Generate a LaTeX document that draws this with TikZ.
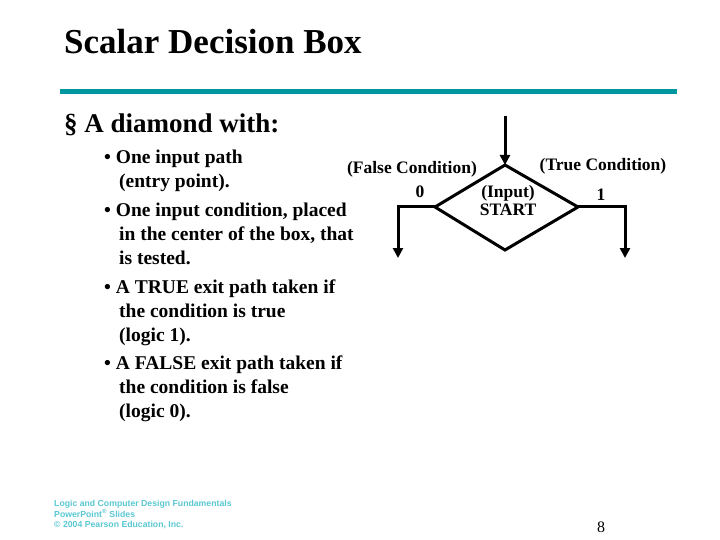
\documentclass[tikz,border=0pt]{standalone}
\usepackage{fontspec}
\setmainfont{Liberation Serif}
\newfontfamily\logofont{Liberation Sans}
\usetikzlibrary{arrows.meta}
\definecolor{teal1}{RGB}{0,150,160}
\definecolor{logoc}{RGB}{90,200,210}
\begin{document}
\begin{tikzpicture}[x=1pt,y=-1pt,
  flow/.style={line width=3pt},
  arr/.style={flow,-{Triangle[length=10pt,width=10pt]}},
  lbl/.style={font=\bfseries\fontsize{17.5}{19}\selectfont,inner sep=0pt},
  item/.style={anchor=north west,align=left,inner sep=0pt,font=\bfseries\fontsize{19.5}{24}\selectfont}]
\fill[white] (0,0) rectangle (720,540);
\useasboundingbox (0,0) rectangle (720,540);
\node[anchor=west,inner sep=0pt,font=\bfseries\fontsize{35}{38}\selectfont] (title) at (64,42) {Scalar Decision Box};
\draw[teal1,line width=5pt] (60,92) coordinate (r1) -- (677,92) coordinate (r2);
\node[anchor=west,inner sep=0pt,font=\bfseries\fontsize{27}{30}\selectfont] (b1) at (64,125) {\textsection\ A diamond with:};
\node[item] (s1) at (104,150) {•~One input path\\\hspace{15pt}(entry point).\\[5pt]•~One input condition, placed\\\hspace{15pt}in the center of the box, that\\\hspace{15pt}is tested.\\[5pt]•~A TRUE exit path taken if\\\hspace{15pt}the condition is true\\\hspace{15pt}(logic 1).\\[4pt]•~A FALSE exit path taken if\\\hspace{15pt}the condition is false\\\hspace{15pt}(logic 0).};
% diamond
\coordinate (top) at (505,165);
\coordinate (lft) at (435,207);
\coordinate (rgt) at (578,207);
\coordinate (bot) at (505,250);
\coordinate (in) at (505,116);
\coordinate (l1) at (398,207);
\coordinate (l2) at (398,258);
\coordinate (r3) at (625,207);
\coordinate (r4) at (625,258);
\draw[flow,line join=miter] (top) -- (rgt) -- (bot) -- (lft) -- cycle;
\draw[arr] (in) -- (top);
\draw[arr] (lft) -- (l1) -- (l2);
\draw[arr] (rgt) -- (r3) -- (r4);
\node[lbl] (fc) at (412,169) {(False Condition)};
\node[lbl] (tc) at (603,166) {(True Condition)};
\node[lbl] (z) at (420,192) {0};
\node[lbl] (o) at (601,195) {1};
\node[lbl,align=center,font=\bfseries\fontsize{17.5}{18}\selectfont] (st) at (508,201) {(Input)\\START};
\node[anchor=north west,align=left,inner sep=0pt,text=logoc,font=\logofont\bfseries\fontsize{8.7}{10.5}\selectfont] (logo) at (54,500) {Logic and Computer Design Fundamentals\\PowerPoint\textsuperscript{®} Slides\\© 2004 Pearson Education, Inc.};
\node[inner sep=0pt,font=\fontsize{16}{18}\selectfont] (pg) at (601,527) {8};
\end{tikzpicture}
\end{document}
